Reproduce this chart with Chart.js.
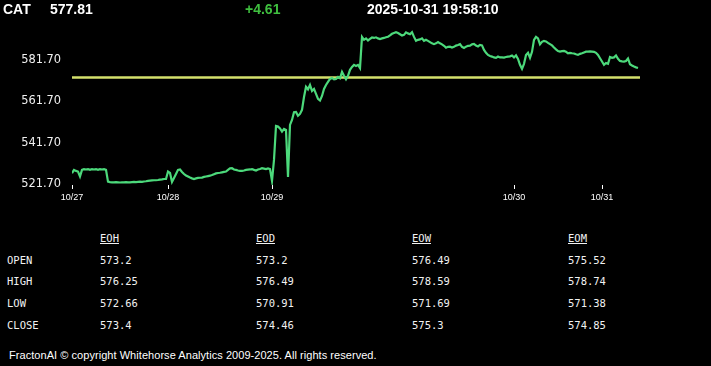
<!DOCTYPE html>
<html>
<head>
<meta charset="utf-8">
<script src="https://cdn.jsdelivr.net/npm/chart.js@4.4.1/dist/chart.umd.min.js"></script>
<style>
  html, body { margin: 0; padding: 0; background: #000; }
  body { width: 711px; height: 366px; position: relative; overflow: hidden; color: #fff; }
  #c { position: absolute; left: 0; top: 0; }
  .hdr { position: absolute; top: 2px; font: bold 14px "Liberation Sans", Arial, sans-serif; line-height: 14px; white-space: nowrap; color: #fff; }
  .mono { position: absolute; font: 10.5px "DejaVu Sans Mono", monospace; line-height: 12px; white-space: nowrap; color: #f2f2f2; }
  .u { text-decoration: underline; }
  #foot { position: absolute; left: 9px; top: 350px; font: 11px "Liberation Sans", Arial, sans-serif; line-height: 11px; white-space: nowrap; color: #fff; letter-spacing: 0.05px; }
</style>
</head>
<body>
<canvas id="c" width="711" height="215"></canvas>
<div id="texts"></div>
<script>
// ---- data ----
const symbol = 'CAT';
const lastPrice = 577.81;
const change = 4.61;
const timestamp = '2025-10-31 19:58:10';

const dayLabels = ['10/27', '10/28', '10/29', '10/30', '10/31'];
const dayStarts = [0, 48, 100, 221, 265];   // sample index where each day starts

const yTicks = [521.7, 541.7, 561.7, 581.7];

const prices = [
  // 10/27
  527.0, 528.6, 528.1, 527.8, 525.4, 528.6, 529.0, 528.8, 529.0, 528.6, 529.0, 528.8, 529.0, 528.6, 529.0, 528.8, 529.0, 528.6,
  522.9, 522.7, 522.6, 522.6, 522.7, 522.6, 522.5, 522.6, 522.6, 522.7, 522.6, 522.6, 522.7, 522.8, 522.7, 522.8, 522.9, 522.8,
  523.0, 523.1, 523.3, 523.4, 523.5, 523.6, 523.6, 523.7, 523.9, 524.0, 524.2, 524.2,
  // 10/28
  527.8, 527.1, 522.8, 524.7, 526.6, 528.6, 528.8, 527.6, 526.6, 525.9, 525.4, 524.9, 524.5, 524.2, 524.5, 524.7, 524.8,
  524.9, 525.2, 525.4, 525.6, 525.8, 526.1, 526.5, 526.9, 527.1, 527.2, 527.4, 527.6, 527.8, 528.6, 529.3, 529.4, 528.8, 528.6,
  528.3, 528.1, 528.1, 528.3, 528.6, 528.7, 528.8, 529.0, 528.6, 528.3, 528.8, 529.0, 529.4, 529.2, 529.0, 529.3, 529.0,
  // 10/29
  523.3, 533.4, 549.8, 549.5, 548.6, 547.1, 548.4, 547.9, 525.2, 550.3, 552.7, 556.4, 556.6, 554.7, 555.6, 557.6, 563.8, 568.7,
  567.5, 569.6, 566.7, 567.7, 565.3, 562.9, 562.1, 564.3, 567.7, 569.6, 571.1, 572.5, 573.0, 572.3, 572.5, 573.5, 572.8, 575.9,
  574.0, 572.3, 574.0, 576.9, 578.3, 579.3, 578.8, 579.3, 577.8,
  592.8, 591.4, 592.1, 591.1, 591.8, 592.5, 592.3, 592.6, 592.1, 591.8, 592.1, 592.3, 592.6, 592.9, 593.5, 594.3, 594.7, 595.1,
  594.7, 594.1, 593.5, 593.8, 595.0, 594.5, 594.1, 595.1, 592.8, 590.9, 591.4, 591.6, 592.1, 590.9, 591.4, 590.9, 590.3, 589.7,
  589.3, 589.7, 590.3, 589.7, 589.2, 588.5, 587.6, 588.0, 588.1, 587.7, 588.0, 588.6, 588.9, 589.3, 588.0, 587.5, 588.1, 588.5,
  588.6, 589.2, 589.4, 588.6, 588.2, 588.9,
  588.7, 586.5, 585.1, 584.1, 583.6, 583.3, 582.9, 582.7, 583.3, 582.9, 582.9, 582.8, 583.1, 583.3, 583.4, 583.8,
  // 10/30
  582.9, 583.9, 582.2, 579.3, 577.4, 579.8, 584.1, 585.1, 582.7, 585.6, 591.4, 592.8, 592.1, 589.2, 590.4, 590.9, 590.6, 589.9,
  589.3, 588.7, 587.7, 586.8, 586.0, 585.7,
  585.9, 586.0, 585.6, 584.9, 585.1, 584.9, 584.8, 584.4, 584.1, 584.6, 584.9, 585.3, 585.7, 585.7, 585.8, 585.7, 585.6, 585.1,
  584.1, 582.5,
  // 10/31
  580.9, 579.3, 580.2, 579.8, 583.1, 582.7, 582.9, 583.8, 582.2, 581.2, 581.0, 580.9, 581.2, 582.4, 579.6, 579.0, 578.5, 578.1,
  577.81
];

const tableCols = ['EOH', 'EOD', 'EOW', 'EOM'];
const tableRows = ['OPEN', 'HIGH', 'LOW', 'CLOSE'];
const openVals  = ['573.2', '573.2', '576.49', '575.52'];
const highVals  = ['576.25', '576.49', '578.59', '578.74'];
const lowVals   = ['572.66', '570.91', '571.69', '571.38'];
const closeVals = ['573.4', '574.46', '575.3', '574.85'];

const footer = 'FractonAI \u00A9 copyright Whitehorse Analytics 2009-2025. All rights reserved.';

// ---- texts ----
const prevClose = +(lastPrice - change).toFixed(2);
const T = document.getElementById('texts');
function add(cls, left, top, text) {
  const d = document.createElement('div');
  d.className = cls;
  d.style.left = left + 'px';
  d.style.top = top + 'px';
  d.textContent = text;
  T.appendChild(d);
  return d;
}
add('hdr', 3, 2, symbol);
add('hdr', 50, 2, lastPrice.toFixed(2));
add('hdr', 245, 2, (change >= 0 ? '+' : '') + change.toFixed(2)).style.color = '#3fbf3f';
add('hdr', 367, 2, timestamp);

const colX = [100, 256, 412, 568];
const rowTop0 = 232.1, rowPitch = 21.65;
tableCols.forEach((c, j) => add('mono u', colX[j], rowTop0, c));
const rowVals = [openVals, highVals, lowVals, closeVals];
tableRows.forEach((r, i) => {
  const top = rowTop0 + rowPitch * (i + 1);
  add('mono', 7, top, r);
  rowVals[i].forEach((v, j) => add('mono', colX[j], top, v));
});
document.getElementById('texts').insertAdjacentHTML('beforeend', '<div id="foot"></div>');
document.getElementById('foot').textContent = footer;

// ---- chart ----
const ctx = document.getElementById('c').getContext('2d');
const lastIdx = prices.length;
new Chart(ctx, {
  type: 'line',
  data: {
    datasets: [
      {
        data: prices.map((v, i) => ({ x: i, y: v })),
        borderColor: '#4cd97b',
        borderWidth: 2.2,
        pointRadius: 0,
        tension: 0,
        fill: false
      },
      {
        data: [{ x: 0, y: prevClose }, { x: lastIdx, y: prevClose }],
        borderColor: '#d4e16c',
        borderWidth: 2.5,
        pointRadius: 0,
        tension: 0,
        fill: false
      }
    ]
  },
  options: {
    responsive: false,
    animation: false,
    events: [],
    layout: { padding: { left: 0, right: 711 - 640, top: 28, bottom: 0 } },
    plugins: { legend: { display: false }, tooltip: { enabled: false } },
    scales: {
      x: {
        type: 'linear',
        min: 0,
        max: lastIdx,
        grid: { display: true, drawOnChartArea: false, drawTicks: true, tickLength: 4, color: '#ffffff', lineWidth: 1 },
        border: { display: false },
        ticks: {
          autoSkip: false, maxRotation: 0, padding: 3, color: '#ffffff',
          font: { family: 'Liberation Sans', size: 9 },
          callback: (v, i) => dayLabels[i]
        },
        afterBuildTicks: s => { s.ticks = dayStarts.map(v => ({ value: v })); },
        afterFit: s => { s.height = 30; }
      },
      y: {
        min: 521.3,
        max: 597.1,
        grid: { display: false, drawTicks: false },
        border: { display: false },
        ticks: {
          padding: 11, color: '#f0f0f0',
          font: { family: 'DejaVu Sans', size: 11.4 },
          callback: v => Number(v).toFixed(2)
        },
        afterBuildTicks: s => { s.ticks = yTicks.map(v => ({ value: v })); },
        afterFit: s => { s.width = 72; }
      }
    }
  }
});
</script>
</body>
</html>
